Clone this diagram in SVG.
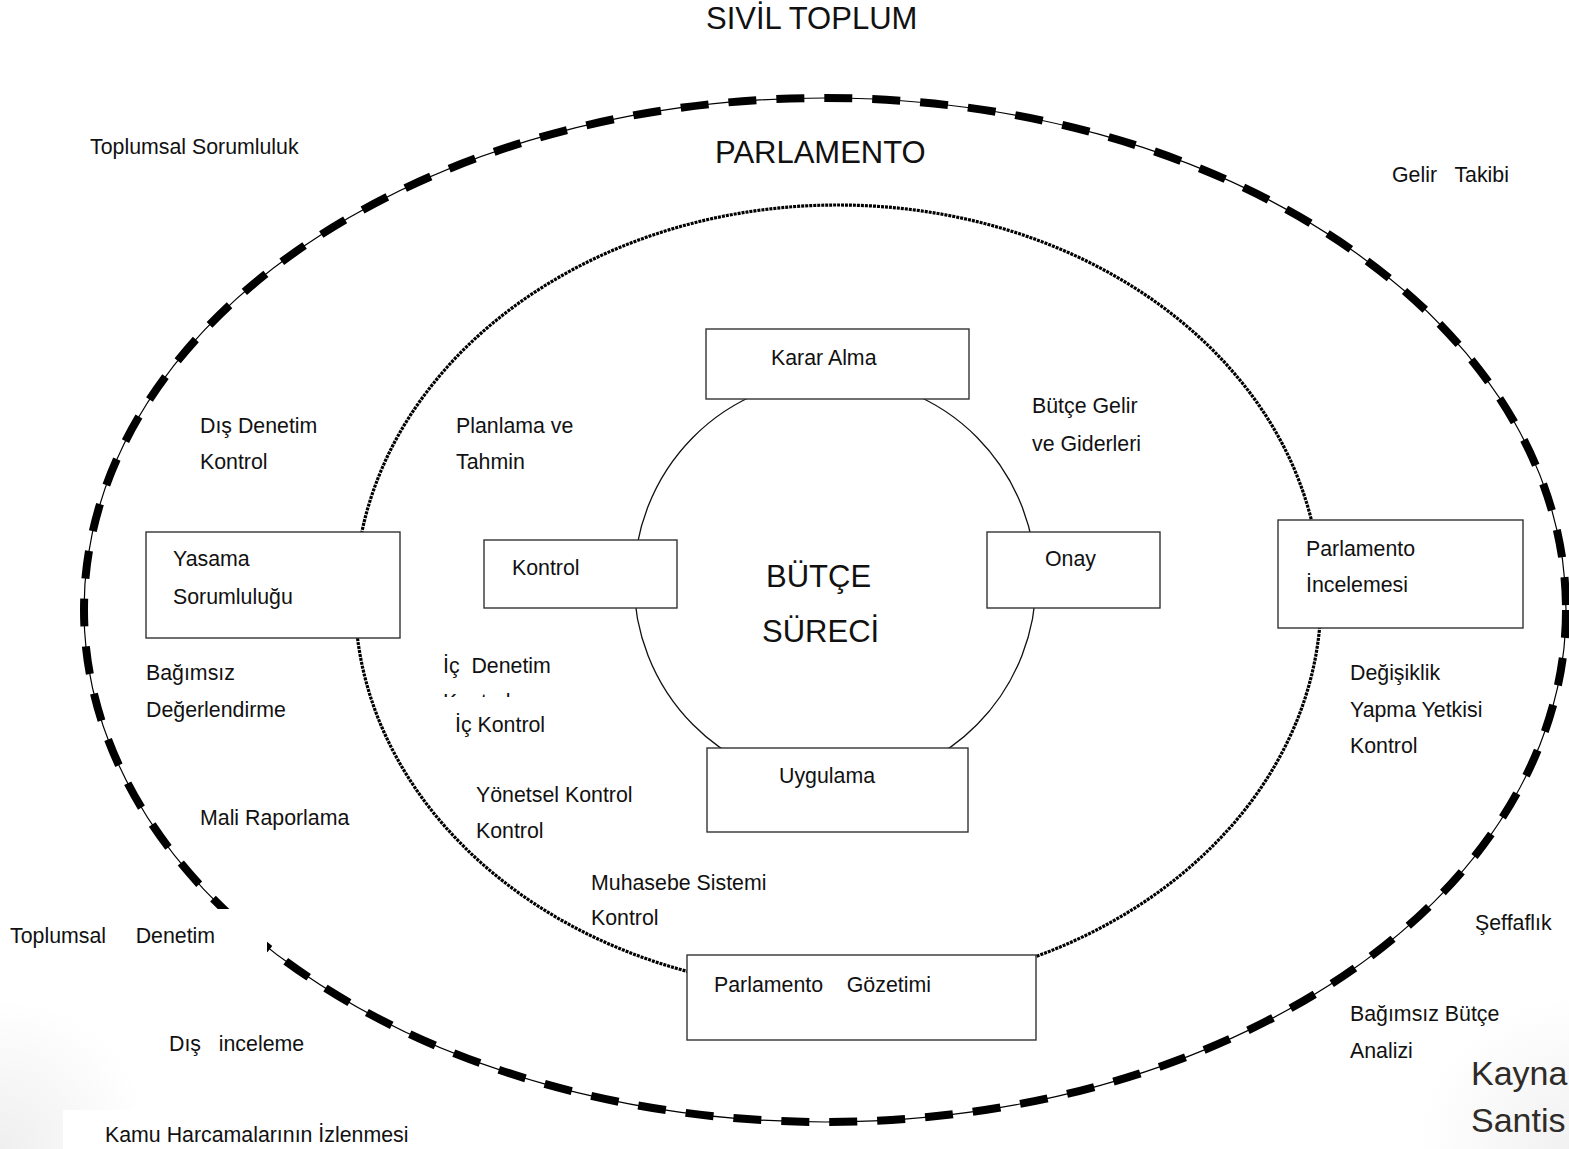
<svg xmlns="http://www.w3.org/2000/svg" width="1569" height="1149" viewBox="0 0 1569 1149">
<style>
text{font-family:"Liberation Sans",Arial,sans-serif;font-size:21.33px;fill:#111;white-space:pre}
.big{font-size:31px}
.box{fill:#fff;stroke:#333;stroke-width:1.4}
.src{font-size:34px;fill:#2e2b28}
</style>
<defs>
<radialGradient id="gl" cx="0" cy="1149" r="150" gradientUnits="userSpaceOnUse">
<stop offset="0" stop-color="#efefef"/><stop offset="1" stop-color="#fff"/>
</radialGradient>
<radialGradient id="gr" cx="1569" cy="1149" r="150" gradientUnits="userSpaceOnUse">
<stop offset="0" stop-color="#f1f1f1"/><stop offset="1" stop-color="#fff"/>
</radialGradient>
</defs>
<rect width="1569" height="1149" fill="#fff"/>
<rect x="0" y="980" width="170" height="169" fill="url(#gl)"/>
<rect x="1400" y="980" width="169" height="169" fill="url(#gr)"/>

<g id="connectors">
<ellipse id="outer-ring-line" cx="825" cy="610" rx="741" ry="512" fill="none" stroke="#000" stroke-width="1.2"/>
<ellipse id="outer-ring-dash" cx="825" cy="610" rx="741" ry="512" fill="none" stroke="#000" stroke-width="8" stroke-dasharray="28 20"/>
<rect x="0" y="909" width="267" height="56" fill="#fff"/>
<ellipse id="inner-ring" cx="838" cy="598" rx="483" ry="393" fill="none" stroke="#000" stroke-width="3.2" stroke-dasharray="3 1"/>
<ellipse id="core" cx="835" cy="581" rx="201" ry="203" fill="none" stroke="#111" stroke-width="1.3"/>
</g>

<g id="sivil-toplum"><text class="big" x="706" y="29">SIVİL TOPLUM</text></g>
<g id="parlamento"><text class="big" x="715" y="163">PARLAMENTO</text></g>
<g id="toplumsal-sorumluluk"><text x="90" y="154">Toplumsal Sorumluluk</text></g>
<g id="gelir-takibi"><text x="1392" y="182">Gelir   Takibi</text></g>

<g id="karar-alma"><rect class="box" x="706" y="329" width="263" height="70"/><text x="771" y="365">Karar Alma</text></g>
<g id="dis-denetim"><text x="200" y="433">Dış Denetim</text><text x="200" y="469">Kontrol</text></g>
<g id="planlama"><text x="456" y="433">Planlama ve</text><text x="456" y="469">Tahmin</text></g>
<g id="butce-gelir"><text x="1032" y="413">Bütçe Gelir</text><text x="1032" y="451">ve Giderleri</text></g>

<g id="yasama"><rect class="box" x="146" y="532" width="254" height="106"/><text x="173" y="566">Yasama</text><text x="173" y="604">Sorumluluğu</text></g>
<g id="kontrol"><rect class="box" x="484" y="540" width="193" height="68"/><text x="512" y="575">Kontrol</text></g>
<g id="butce-sureci"><text class="big" x="766" y="587">BÜTÇE</text><text class="big" x="762" y="642">SÜRECİ</text></g>
<g id="onay"><rect class="box" x="987" y="532" width="173" height="76"/><text x="1045" y="566">Onay</text></g>
<g id="parlamento-incelemesi"><rect class="box" x="1278" y="520" width="245" height="108"/><text x="1306" y="556">Parlamento</text><text x="1306" y="592">İncelemesi</text></g>

<g id="bagimsiz-degerlendirme"><text x="146" y="680">Bağımsız</text><text x="146" y="717">Değerlendirme</text></g>
<g id="ic-denetim"><text x="443" y="673">İç  Denetim</text><text x="443" y="709">Kontrol</text><rect x="438" y="697" width="130" height="44" fill="#fff"/><text x="455" y="732">İç Kontrol</text></g>
<g id="degisiklik"><text x="1350" y="680">Değişiklik</text><text x="1350" y="717">Yapma Yetkisi</text><text x="1350" y="753">Kontrol</text></g>

<g id="uygulama"><rect class="box" x="707" y="748" width="261" height="84"/><text x="779" y="783">Uygulama</text></g>
<g id="yonetsel-kontrol"><text x="476" y="802">Yönetsel Kontrol</text><text x="476" y="838">Kontrol</text></g>
<g id="mali-raporlama"><text x="200" y="825">Mali Raporlama</text></g>
<g id="muhasebe"><text x="591" y="890">Muhasebe Sistemi</text><text x="591" y="925">Kontrol</text></g>
<g id="toplumsal-denetim"><text x="10" y="943">Toplumsal     Denetim</text></g>
<g id="seffaflik"><text x="1475" y="930">Şeffaflık</text></g>
<g id="parlamento-gozetimi"><rect class="box" x="687" y="955" width="349" height="85"/><text x="714" y="992">Parlamento    Gözetimi</text></g>
<g id="bagimsiz-butce"><text x="1350" y="1021">Bağımsız Bütçe</text><text x="1350" y="1058">Analizi</text></g>
<g id="dis-inceleme"><text x="169" y="1051">Dış   inceleme</text></g>
<g id="kamu"><rect x="63" y="1110" width="400" height="39" fill="#fff"/><text x="105" y="1142">Kamu Harcamalarının İzlenmesi</text></g>
<g id="kaynak"><text class="src" x="1471" y="1085">Kayna</text><text class="src" x="1471" y="1132">Santis</text></g>
</svg>
